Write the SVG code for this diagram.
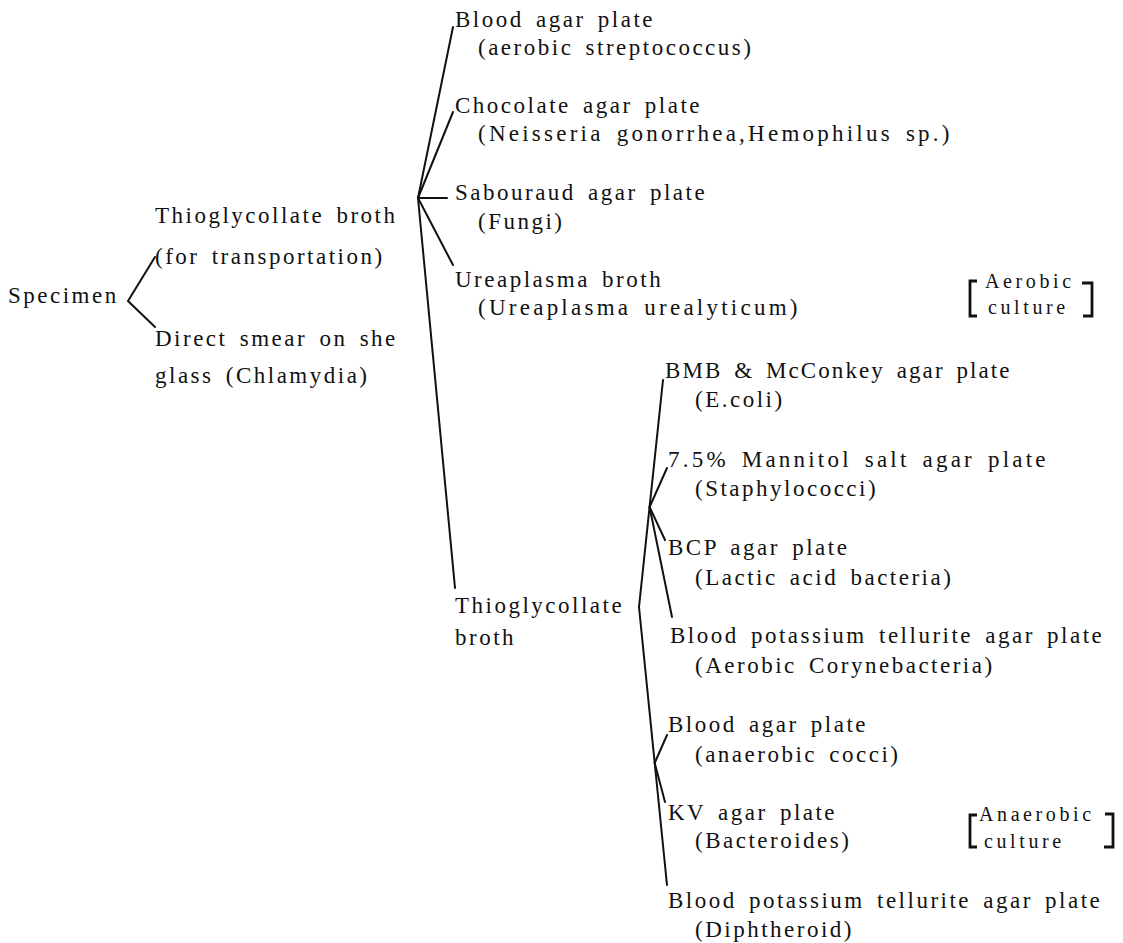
<svg xmlns="http://www.w3.org/2000/svg" width="1123" height="943" viewBox="0 0 1123 943">
<style>
text{font-family:"Liberation Serif","Times New Roman",serif;font-size:23px;fill:#111;letter-spacing:2.5px;word-spacing:4px}
text.sm{font-size:20px;letter-spacing:3.6px}
.ln{stroke:#111;stroke-width:2;fill:none;stroke-linecap:round;stroke-linejoin:round}
.br{stroke:#111;stroke-width:2.8;fill:none}
</style>
<rect width="1123" height="943" fill="#fff"/>
<g id="connectors" class="ln">
<polyline points="155,257 128,301 155,327"/>
<line x1="418" y1="198" x2="453" y2="27"/>
<line x1="418" y1="198" x2="453" y2="112"/>
<line x1="418" y1="198" x2="447" y2="198"/>
<line x1="418" y1="198" x2="453" y2="265"/>
<line x1="418" y1="198" x2="455" y2="588"/>
<line x1="639" y1="607" x2="663" y2="380"/>
<line x1="649.6" y1="507" x2="667" y2="468"/>
<line x1="649.6" y1="507" x2="665" y2="540"/>
<line x1="649.6" y1="507" x2="672" y2="617"/>
<line x1="639" y1="607" x2="667" y2="885"/>
<line x1="654.7" y1="763" x2="667" y2="735"/>
<line x1="654.7" y1="763" x2="665" y2="802"/>
</g>
<g id="specimen"><text x="8" y="303">Specimen</text></g>
<g id="thio-transport"><text x="155" y="223">Thioglycollate broth</text><text x="155" y="264">(for transportation)</text></g>
<g id="direct-smear"><text x="155" y="346">Direct smear on she</text><text x="155" y="383">glass (Chlamydia)</text></g>
<g id="blood-agar-aerobic"><text x="455" y="27">Blood agar plate</text><text x="478" y="55">(aerobic streptococcus)</text></g>
<g id="chocolate"><text x="455" y="113">Chocolate agar plate</text><text x="478" y="141" textLength="474" lengthAdjust="spacing">(Neisseria gonorrhea,Hemophilus sp.)</text></g>
<g id="sabouraud"><text x="455" y="200">Sabouraud agar plate</text><text x="478" y="229">(Fungi)</text></g>
<g id="ureaplasma"><text x="455" y="287">Ureaplasma broth</text><text x="478" y="315" textLength="322" lengthAdjust="spacing">(Ureaplasma urealyticum)</text></g>
<g id="aerobic-culture"><path class="br" d="M977 281 H970 V316 H977"/><path class="br" d="M1082 283 H1092 V316 H1083"/><text class="sm" x="985" y="288">Aerobic</text><text class="sm" x="988" y="314">culture</text></g>
<g id="thio-broth"><text x="455" y="613">Thioglycollate</text><text x="455" y="645">broth</text></g>
<g id="bmb"><text x="665" y="378" textLength="347" lengthAdjust="spacing">BMB &amp; McConkey agar plate</text><text x="695" y="407">(E.coli)</text></g>
<g id="mannitol"><text x="668" y="467" textLength="380" lengthAdjust="spacing">7.5% Mannitol salt agar plate</text><text x="695" y="496">(Staphylococci)</text></g>
<g id="bcp"><text x="668" y="555">BCP agar plate</text><text x="695" y="585">(Lactic acid bacteria)</text></g>
<g id="bpt-aerobic"><text x="670" y="643">Blood potassium tellurite agar plate</text><text x="695" y="673">(Aerobic Corynebacteria)</text></g>
<g id="blood-agar-anaerobic"><text x="668" y="732">Blood agar plate</text><text x="695" y="762">(anaerobic cocci)</text></g>
<g id="kv"><text x="668" y="820">KV agar plate</text><text x="695" y="848">(Bacteroides)</text></g>
<g id="anaerobic-culture"><path class="br" d="M977 815 H970 V847 H977"/><path class="br" d="M1105 814 H1113 V847 H1104"/><text class="sm" x="979" y="821">Anaerobic</text><text class="sm" x="984" y="848">culture</text></g>
<g id="bpt-diphtheroid"><text x="668" y="908">Blood potassium tellurite agar plate</text><text x="695" y="937">(Diphtheroid)</text></g>
</svg>
